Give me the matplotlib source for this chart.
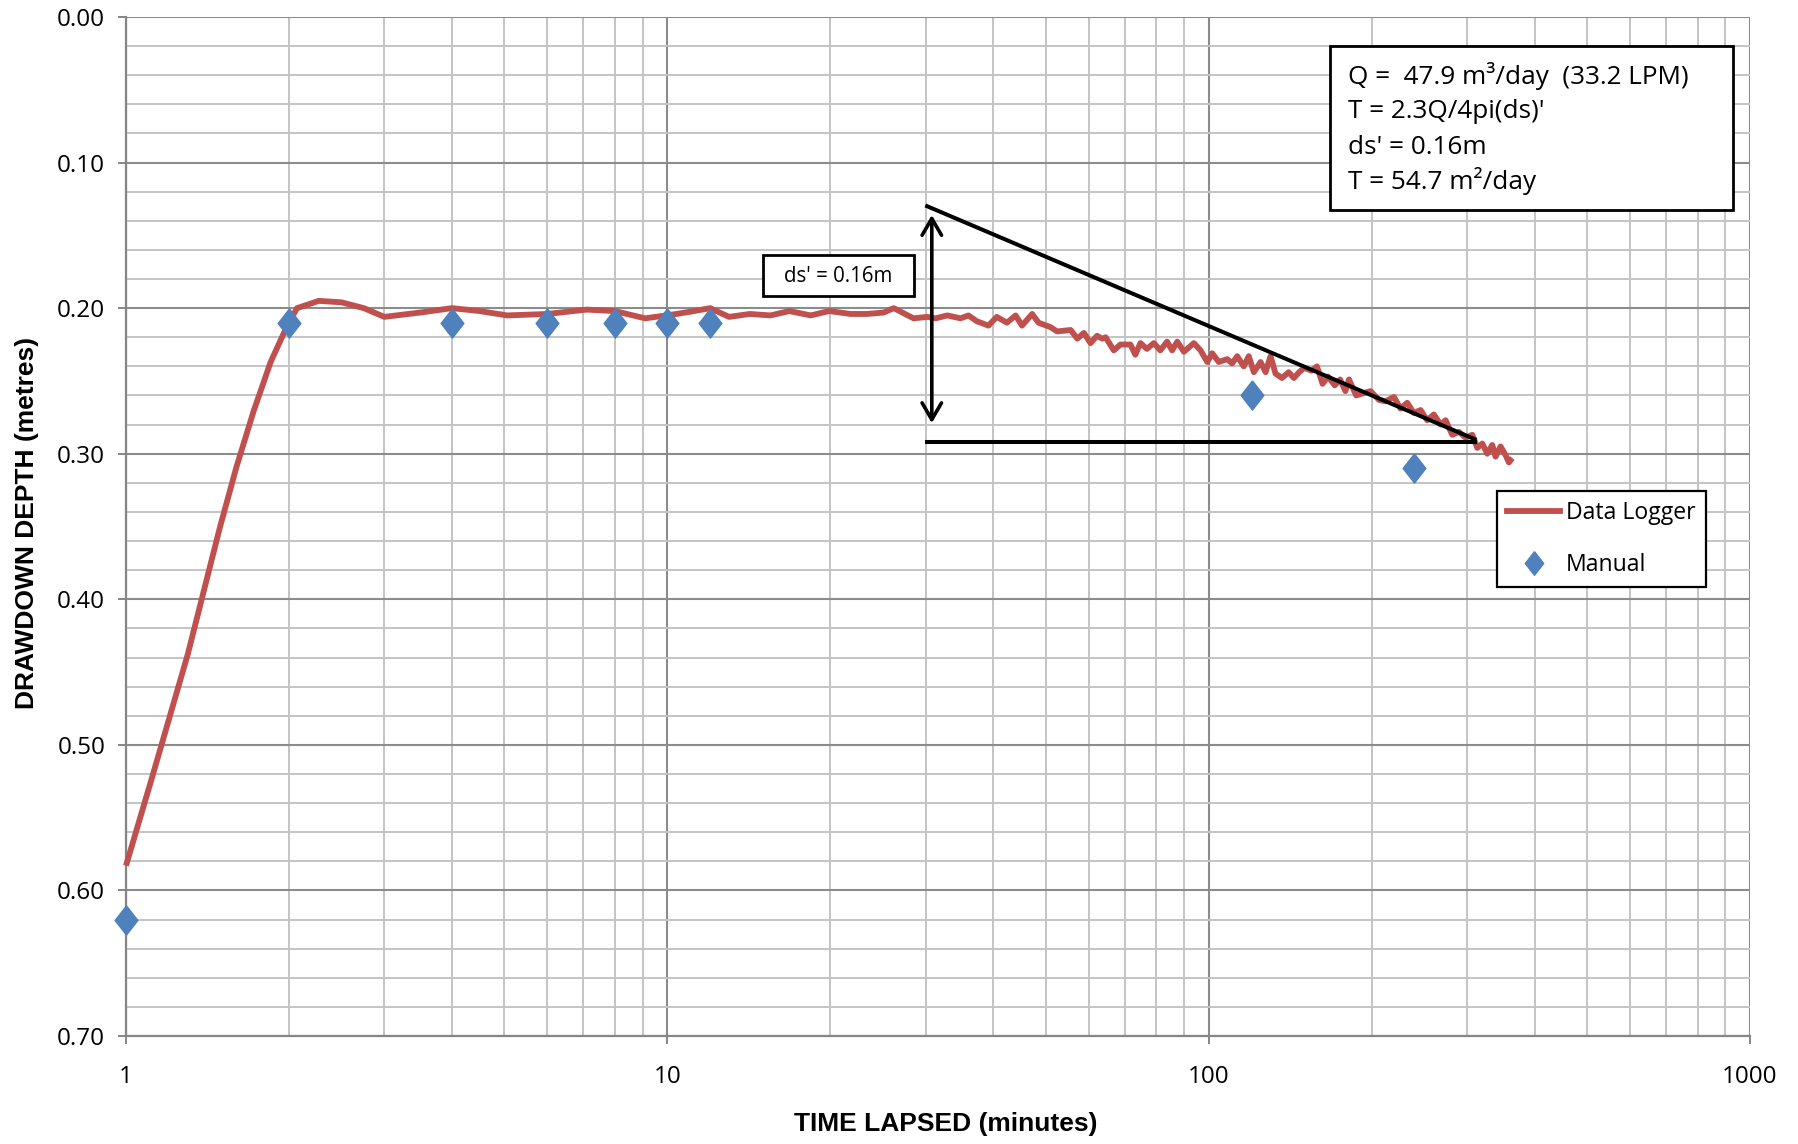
import numpy as np
import matplotlib
matplotlib.use("Agg")
import matplotlib.pyplot as plt
from matplotlib.patches import Rectangle
from matplotlib.lines import Line2D
from matplotlib.ticker import FixedLocator, MultipleLocator, NullFormatter, FormatStrFormatter

# pumping test drawdown - data logger trace (time in minutes, drawdown in metres)
logger_t = [1.0, 1.12, 1.3, 1.49, 1.6, 1.72, 1.85, 1.98, 2.07, 2.27, 2.5, 2.75,
            3.0, 3.5, 4.0, 4.5, 5.06, 6.0, 7.1, 8.0, 9.1, 10.4, 11.2, 12.0,
            13.0, 14.2, 15.5, 16.8, 18.4, 19.9, 21.8, 23.4, 25.1, 26.2, 28.5,
            30.2, 31.3, 32.9, 34.8, 36.0, 37.3, 39.2, 40.6, 42.4, 44.0, 45.2,
            47.2, 48.5, 51.0, 52.5, 55.6, 57.2, 58.8, 60.5, 62.2, 63.6, 64.5,
            66.8, 68.7, 71.7, 73.2, 74.8, 76.9, 79.2, 81.4, 83.8, 85.6, 87.5,
            90.0, 93.9, 96.6, 99.4, 101.5, 104.4, 108.2, 110.5, 112.9, 116.1,
            118.6, 121.2, 124.7, 127.4, 130.1, 132.9, 136.6, 140.5, 143.7,
            146.9, 150.2, 154.9, 158.5, 162.3, 166.1, 171.0, 174.9, 178.9,
            181.6, 187.3, 190.8, 199.1, 206.3, 212.2, 219.9, 226.2, 232.7,
            239.3, 246.3, 253.3, 260.6, 268.2, 274.0, 281.8, 290.0, 298.3,
            306.9, 313.5, 320.2, 327.1, 334.1, 338.8, 346.1, 353.6, 358.6, 363.8]
logger_d = [0.583, 0.521, 0.438, 0.351, 0.309, 0.271, 0.237, 0.213, 0.200, 0.195, 0.196, 0.200,
            0.206, 0.203, 0.200, 0.202, 0.205, 0.204, 0.201, 0.202, 0.207, 0.204, 0.202, 0.200,
            0.206, 0.204, 0.205, 0.202, 0.205, 0.202, 0.204, 0.204, 0.203, 0.200, 0.207,
            0.206, 0.207, 0.205, 0.207, 0.205, 0.209, 0.212, 0.206, 0.210, 0.205, 0.212,
            0.204, 0.210, 0.213, 0.216, 0.215, 0.221, 0.217, 0.224, 0.219, 0.221, 0.220,
            0.229, 0.225, 0.225, 0.232, 0.224, 0.228, 0.224, 0.229, 0.223, 0.229, 0.223,
            0.230, 0.224, 0.229, 0.237, 0.231, 0.237, 0.235, 0.238, 0.233, 0.240,
            0.233, 0.244, 0.237, 0.244, 0.233, 0.245, 0.248, 0.244, 0.248,
            0.244, 0.241, 0.243, 0.240, 0.252, 0.247, 0.253, 0.249, 0.257,
            0.249, 0.260, 0.259, 0.257, 0.263, 0.264, 0.261, 0.269, 0.265,
            0.272, 0.270, 0.277, 0.273, 0.280, 0.277, 0.287, 0.285, 0.289,
            0.287, 0.296, 0.293, 0.300, 0.294, 0.302, 0.295, 0.301, 0.306, 0.303]

# manual dipper readings
manual_t = [1, 2, 4, 6, 8, 10, 12, 120, 240]
manual_d = [0.62, 0.21, 0.21, 0.21, 0.21, 0.21, 0.21, 0.26, 0.31]

# straight-line fit used for the Cooper-Jacob estimate
fit_t = [30.2, 310]
fit_d = [0.130, 0.290]
base_t = [30.2, 310]
base_d = [0.292, 0.292]
ds_t = 30.8
ds_top, ds_bottom = 0.136, 0.279

info_lines = ["Q =  47.9 m\u00b3/day  (33.2 LPM)",
              "T = 2.3Q/4pi(ds)'",
              "ds' = 0.16m",
              "T = 54.7 m\u00b2/day"]

RED = "#C0504D"
BLUE = "#4F81BD"
BODY_FONT = ["Open Sans", "DejaVu Sans"]
LABEL_FONT = ["Liberation Sans", "DejaVu Sans"]

W, H = 1799, 1144
fig = plt.figure(figsize=(W / 100, H / 100), dpi=100)


def fx(px):
    return px / W


def fy(py):
    return 1 - py / H


ax = fig.add_axes([fx(126), fy(1036), fx(1750) - fx(126), fy(17) - fy(1036)])
ax.set_xscale("log")
ax.set_xlim(1, 1000)
ax.set_ylim(0.70, 0.0)

# grid
ax.xaxis.set_major_locator(FixedLocator([1, 10, 100, 1000]))
ax.xaxis.set_major_formatter(FormatStrFormatter("%d"))
ax.xaxis.set_minor_locator(FixedLocator([m * 10 ** e for e in range(3) for m in range(2, 10)]))
ax.xaxis.set_minor_formatter(NullFormatter())
ax.yaxis.set_major_locator(MultipleLocator(0.1))
ax.yaxis.set_major_formatter(FormatStrFormatter("%.2f"))
ax.yaxis.set_minor_locator(MultipleLocator(0.02))
ax.grid(which="major", color="#8C8C8C", lw=1.5, zorder=0)
ax.grid(which="minor", color="#C4C4C4", lw=1.4, zorder=0)
ax.set_axisbelow(True)

for s in ["top", "right"]:
    ax.spines[s].set_visible(False)
for s in ["left", "bottom"]:
    ax.spines[s].set_color("#868686")
    ax.spines[s].set_linewidth(1.6)

ax.tick_params(which="major", length=6, width=1.4, color="#868686", labelsize=17.5)
ax.tick_params(which="minor", length=0)
ax.tick_params(axis="x", which="major", pad=15)
ax.tick_params(axis="y", which="major", pad=9)
for lab in ax.get_xticklabels() + ax.get_yticklabels():
    lab.set_family(BODY_FONT)

ax.set_xlabel("TIME LAPSED (minutes)", family=LABEL_FONT, fontsize=19,
              fontweight="bold", va="center")
ax.xaxis.set_label_coords((946 - 126) / 1624, (1036 - 1124) / 1019)
ax.set_ylabel("DRAWDOWN DEPTH (metres)", family=LABEL_FONT, fontsize=19,
              fontweight="bold", va="center")
ax.yaxis.set_label_coords((27 - 126) / 1624, (1036 - 523) / 1019)

# series
diamond = [(0, 1), (0.78, 0), (0, -1), (-0.78, 0), (0, 1)]
ax.plot(logger_t, logger_d, color=RED, lw=4.2, solid_joinstyle="round",
        solid_capstyle="butt", zorder=3, clip_on=False)
ax.plot(manual_t, manual_d, ls="none", marker=diamond, ms=21, color=BLUE,
        mec=BLUE, zorder=4, clip_on=False)

# fitted line, baseline and ds' arrow
ax.plot(fit_t, fit_d, color="black", lw=2.9, zorder=5)
ax.plot(base_t, base_d, color="black", lw=2.9, zorder=5)
ax.annotate("", xy=(ds_t, ds_top), xytext=(ds_t, ds_bottom),
            arrowprops=dict(arrowstyle="<->,head_length=0.6,head_width=0.35",
                            lw=2.6, color="black", mutation_scale=20,
                            shrinkA=0, shrinkB=0), zorder=6)

# ds' label box
fig.add_artist(Rectangle((fx(763), fy(296)), fx(914) - fx(763), fy(255) - fy(296),
                         transform=fig.transFigure, fc="white", ec="black", lw=2, zorder=7))
fig.text(fx(838), fy(276), "ds' = 0.16m", ha="center", va="center",
         family=BODY_FONT, fontsize=14.8, zorder=8)

# results box
fig.add_artist(Rectangle((fx(1330), fy(210)), fx(1733) - fx(1330), fy(46) - fy(210),
                         transform=fig.transFigure, fc="white", ec="black", lw=2, zorder=7))
for py, txt in zip([76, 112, 147, 181], info_lines):
    fig.text(fx(1348), fy(py), txt, ha="left", va="center",
             family=BODY_FONT, fontsize=18.8, zorder=8)

# legend
handles = [Line2D([], [], color=RED, lw=4.2),
           Line2D([], [], ls="none", marker=diamond, ms=17, color=BLUE)]
leg = ax.legend(handles, ["Data Logger", "Manual"], loc="upper left",
                bbox_to_anchor=(fx(1497), fy(491)), bbox_transform=fig.transFigure,
                fancybox=False, framealpha=1, edgecolor="black", borderaxespad=0,
                handlelength=2.3, handletextpad=0.25, labelspacing=1.2, borderpad=0.45,
                prop={"family": BODY_FONT, "size": 16.6})
leg.get_frame().set_linewidth(1.6)

fig.savefig("out.png", dpi=100)
